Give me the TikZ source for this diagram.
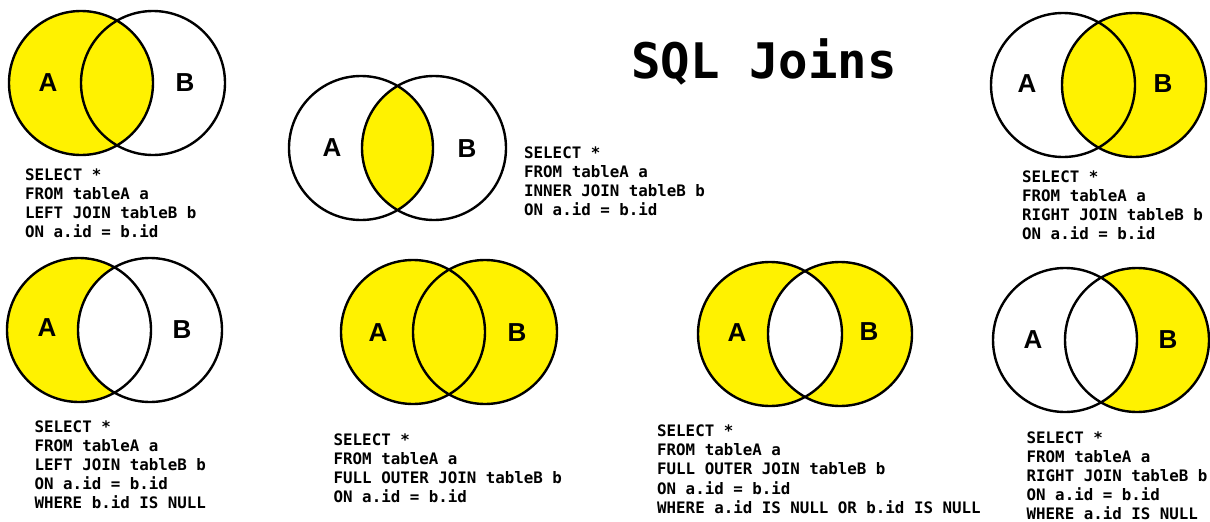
\documentclass[tikz,border=0pt]{standalone}
\usepackage{fontspec}
\setmainfont{Liberation Sans}
\setmonofont{DejaVu Sans Mono}
\definecolor{joinyellow}{RGB}{255,242,0}
\tikzset{
  setline/.style={draw=black, line width=2.4pt},
  setfill/.style={fill=joinyellow},
  setlabel/.style={font=\fontsize{26}{26}\selectfont\bfseries, inner sep=0pt},
  sqltext/.style={font=\fontsize{15.8}{19.1}\selectfont\ttfamily\bfseries, align=left, anchor=base west, inner sep=0pt},
  titletext/.style={font=\fontsize{49}{49}\selectfont\ttfamily\bfseries, inner sep=0pt},
}
\begin{document}
\begin{tikzpicture}[x=1pt,y=-1pt]
\fill[white] (0,0) rectangle (1210,522);
\useasboundingbox (0,0) rectangle (1210,522);

% title
\node[titletext, anchor=base] (title) at (764,78.5) {SQL Joins};

% 1: LEFT JOIN
\fill[setfill] (81,83) circle (72pt);
\draw[setline] (81,83) circle (72pt) (153,83) circle (72pt);
\node[setlabel] (d1A) at (48,83) {A};
\node[setlabel] (d1B) at (185,83) {B};
\node[sqltext] (d1sql) at (25,237.3) {SELECT *\\FROM tableA a\\LEFT JOIN tableB b\\ON a.id = b.id};

% 2: INNER JOIN
\begin{scope}
  \clip (361,148) circle (72pt);
  \fill[setfill] (434,148) circle (72pt);
\end{scope}
\draw[setline] (361,148) circle (72pt) (434,148) circle (72pt);
\node[setlabel] (d2A) at (332,148) {A};
\node[setlabel] (d2B) at (467,149) {B};
\node[sqltext] (d2sql) at (524,215.3) {SELECT *\\FROM tableA a\\INNER JOIN tableB b\\ON a.id = b.id};

% 3: RIGHT JOIN
\fill[setfill] (1134,85) circle (72pt);
\draw[setline] (1063,85) circle (72pt) (1134,85) circle (72pt);
\node[setlabel] (d3A) at (1027,84) {A};
\node[setlabel] (d3B) at (1163,84) {B};
\node[sqltext] (d3sql) at (1022,239.8) {SELECT *\\FROM tableA a\\RIGHT JOIN tableB b\\ON a.id = b.id};

% 4: LEFT JOIN, B null
\begin{scope}
  \clip (79,330) circle (72pt);
  \fill[setfill, even odd rule] (79,330) circle (72pt) (150,330) circle (72pt);
\end{scope}
\draw[setline] (79,330) circle (72pt) (150,330) circle (72pt);
\node[setlabel] (d4A) at (47,328) {A};
\node[setlabel] (d4B) at (182,330) {B};
\node[sqltext] (d4sql) at (34.5,508.4) {SELECT *\\FROM tableA a\\LEFT JOIN tableB b\\ON a.id = b.id\\WHERE b.id IS NULL};

% 5: FULL OUTER JOIN
\fill[setfill] (413,332) circle (72pt) (485,332) circle (72pt);
\draw[setline] (413,332) circle (72pt) (485,332) circle (72pt);
\node[setlabel] (d5A) at (378,333) {A};
\node[setlabel] (d5B) at (517,333) {B};
\node[sqltext] (d5sql) at (333.5,502.3) {SELECT *\\FROM tableA a\\FULL OUTER JOIN tableB b\\ON a.id = b.id};

% 6: FULL OUTER JOIN, either null
\fill[setfill, even odd rule] (770,334) circle (72pt) (840,334) circle (72pt);
\draw[setline] (770,334) circle (72pt) (840,334) circle (72pt);
\node[setlabel] (d6A) at (737,333) {A};
\node[setlabel] (d6B) at (869,332) {B};
\node[sqltext] (d6sql) at (657,513.1) {SELECT *\\FROM tableA a\\FULL OUTER JOIN tableB b\\ON a.id = b.id\\WHERE a.id IS NULL OR b.id IS NULL};

% 7: RIGHT JOIN, A null
\begin{scope}
  \clip (1137,340) circle (72pt);
  \fill[setfill, even odd rule] (1065,340) circle (72pt) (1137,340) circle (72pt);
\end{scope}
\draw[setline] (1065,340) circle (72pt) (1137,340) circle (72pt);
\node[setlabel] (d7A) at (1033,340) {A};
\node[setlabel] (d7B) at (1168,340) {B};
\node[sqltext] (d7sql) at (1026.5,519.5) {SELECT *\\FROM tableA a\\RIGHT JOIN tableB b\\ON a.id = b.id\\WHERE a.id IS NULL};
\end{tikzpicture}
\end{document}
